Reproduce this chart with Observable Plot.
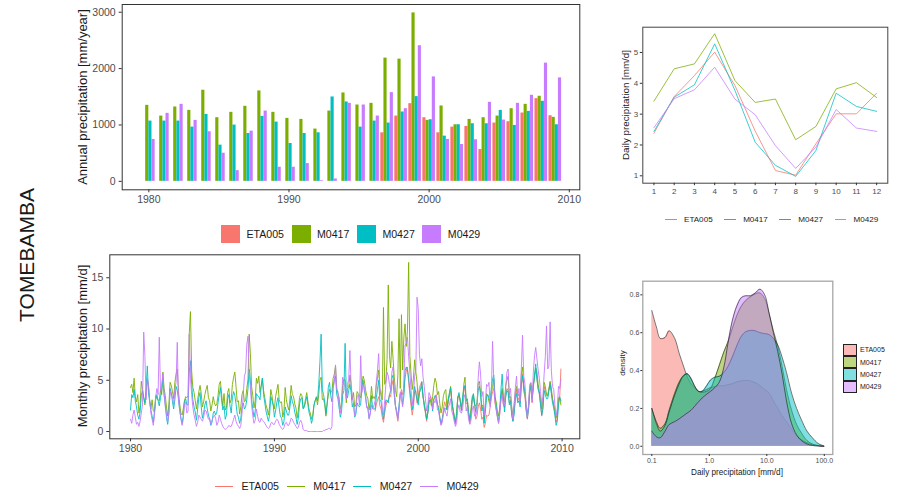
<!DOCTYPE html>
<html><head><meta charset="utf-8">
<script src="https://cdn.jsdelivr.net/npm/d3@7"></script>
<script src="https://cdn.jsdelivr.net/npm/@observablehq/plot@0.6"></script>
<style>
body{margin:0;background:#fff;font-family:"Liberation Sans",Arial,sans-serif;}
#wrap{position:relative;width:902px;height:497px;overflow:hidden;background:#fff;}
.abs{position:absolute;}
.rot{position:absolute;transform:translate(-50%,-50%) rotate(-90deg);white-space:nowrap;color:#1a1a1a;}
.hl{position:absolute;white-space:nowrap;color:#1a1a1a;transform:translate(-50%,-50%);}
.leg{position:absolute;display:flex;align-items:center;white-space:nowrap;color:#1a1a1a;}
</style></head><body><div id="wrap"></div><script>
// ---------------- data ----------------
const series = ["ETA005","M0417","M0427","M0429"];
const colors = ["#F8766D","#7CAE00","#00BFC4","#C77CFF"];
const stationName = "TOMEBAMBA";

const years = [1980,1981,1982,1983,1984,1985,1986,1987,1988,1989,1990,1991,1992,1993,1994,1995,1996,1997,1998,1999,2000,2001,2002,2003,2004,2005,2006,2007,2008,2009];
const annualETA005 = [null,null,null,null,null,null,null,null,null,null,null,null,null,null,null,null,null,861,1158,1378,1129,861,962,974,564,1034,1057,1212,1467,1164];
const annualM0417 = [1348,1158,1319,1259,1616,1129,1224,1331,1604,1224,1117,1099,927,1247,1568,1354,1384,2186,2168,2988,1081,1337,1004,1099,1129,1158,1289,1366,1509,1135];
const annualM0427 = [1069,1069,1069,962,1188,642,998,849,1152,1051,671,849,861,1497,1408,962,1069,1034,1230,1503,1093,802,1004,1022,1022,1259,992,1241,1420,1004];
const annualM0429 = [742,1206,1366,1081,879,499,190,891,1247,250,250,315,12,42,1384,1354,1158,1574,1289,2406,1853,743,653,737,1402,1087,1384,1527,2097,1835];
const annualTicks = [0,1000,2000,3000];
const yearTicks = [1980,1990,2000,2010];

const months = [1,2,3,4,5,6,7,8,9,10,11,12];
const climETA005 = [2.38,3.57,4.25,5.01,3.93,2.45,1.17,1.02,2.04,3.01,3.01,3.68];
const climM0417 = [3.42,4.47,4.63,5.61,4.09,3.38,3.49,2.17,2.60,3.82,4.02,3.54];
const climM0427 = [2.44,3.55,3.95,5.28,3.77,2.09,1.34,0.98,1.82,3.68,3.25,3.09];
const climM0429 = [2.56,3.50,3.79,4.52,3.49,2.98,1.98,1.24,1.93,3.15,2.55,2.44];
const climTicks = [1,2,3,4,5];

const monthlyStartETA005 = 1997;
const monthlyStartOthers = 1980;
const monthlyETA005 = [
2.0,2.6,3.1,3.4,2.5,2.2,1.4,0.9,1.8,2.5,3.0,3.0,
3.6,3.4,4.5,5.0,3.5,2.4,1.7,1.0,2.1,3.6,4.1,3.6,
3.8,5.2,5.9,6.3,4.8,3.6,2.5,1.6,2.4,3.9,4.0,2.8,
3.4,4.3,4.6,4.9,3.4,2.4,1.8,1.0,1.9,3.1,3.4,3.0,
2.4,3.1,3.3,3.6,2.6,2.5,1.3,0.7,1.2,2.2,2.9,2.5,
2.1,2.8,3.5,4.2,2.8,2.0,1.3,0.7,1.5,3.2,3.6,3.1,
2.0,2.9,3.9,4.4,2.7,2.8,1.5,0.8,1.6,3.0,3.4,2.6,
1.2,1.5,2.4,2.8,2.2,1.2,1.4,0.4,0.8,1.6,1.5,1.6,
2.4,3.3,3.9,4.2,2.8,2.1,1.4,0.8,1.7,3.2,4.0,2.6,
2.3,3.6,4.2,4.0,2.8,3.1,1.6,1.0,1.9,3.4,4.1,3.0,
3.3,2.8,4.6,5.6,3.9,3.4,2.0,1.2,2.1,3.8,4.3,2.8,
4.6,5.4,6.1,5.2,4.1,3.7,2.6,1.5,2.4,4.4,4.0,3.5,
3.5,4.2,4.8,3.9,3.1,2.6,1.7,0.9,1.3,3.0,3.3,6.1];
const monthlyM0417 = [
4.3,4.6,3.8,5.2,3.4,2.9,3.6,1.8,2.5,4.9,4.1,3.3,
2.6,3.9,5.1,4.4,3.0,2.2,3.1,2.0,1.9,3.5,3.2,3.1,
3.0,4.1,3.6,5.8,4.2,3.5,2.4,1.5,2.6,4.8,4.5,3.9,
3.2,4.8,5.6,6.1,3.9,2.7,1.8,1.6,2.2,3.0,3.4,3.3,
3.5,9.6,11.7,5.9,4.3,3.8,3.0,2.2,3.1,3.9,4.5,3.7,
2.4,2.9,3.6,4.1,4.5,3.3,3.0,2.0,2.6,3.4,2.8,2.5,
2.7,3.5,4.6,4.9,3.6,2.5,3.7,2.1,2.3,3.8,4.2,2.8,
3.1,4.6,5.3,5.8,4.4,2.9,3.0,1.7,2.4,3.6,4.0,2.9,
3.0,4.2,5.1,9.5,7.6,4.4,3.5,2.3,3.0,5.2,4.7,5.4,
3.8,4.5,5.2,4.0,3.3,2.6,2.2,1.6,2.4,4.1,3.5,2.6,
2.2,3.4,4.0,4.6,3.1,2.8,2.9,1.4,2.0,4.3,3.1,2.5,
2.1,3.2,4.5,3.6,3.4,2.7,2.3,1.3,2.1,3.3,3.7,3.5,
2.3,2.5,3.2,3.8,2.9,2.1,1.8,1.2,1.6,2.6,3.0,3.3,
2.6,3.6,5.0,5.3,3.1,3.2,2.6,1.5,2.8,3.5,4.1,3.8,
3.9,5.2,5.6,6.4,4.2,3.7,3.3,2.2,2.6,4.5,5.1,5.0,
2.8,4.2,4.3,5.5,4.6,3.1,3.8,2.4,2.6,3.9,3.7,3.5,
3.3,4.6,5.4,5.0,4.1,3.5,3.2,2.1,2.9,4.4,3.2,3.4,
3.2,4.5,5.2,6.0,4.1,3.5,3.1,12.1,4.6,5.0,7.0,14.3,
7.4,6.2,8.8,7.1,5.3,4.0,3.4,5.5,11.0,4.2,11.4,6.0,
9.2,10.5,8.3,9.8,16.5,7.4,5.6,4.1,5.2,7.0,5.8,4.8,
3.0,3.8,4.1,4.4,3.5,2.6,2.0,1.2,1.9,2.8,3.1,2.5,
3.4,4.5,5.2,4.8,3.6,3.9,2.7,1.8,2.4,3.5,3.9,4.1,
2.1,3.2,3.6,4.4,2.9,2.2,1.6,0.9,1.8,3.4,3.5,3.0,
2.4,3.0,4.6,5.3,3.0,3.2,1.9,1.3,2.2,3.4,3.6,2.6,
2.5,2.8,4.7,4.9,3.8,2.4,2.6,1.2,2.3,3.7,3.5,2.9,
2.6,3.9,4.3,5.1,3.4,2.9,2.0,1.5,2.3,3.3,4.2,3.0,
2.9,4.5,5.0,5.4,3.3,3.4,2.3,1.6,2.7,3.9,4.4,3.5,
3.6,3.2,5.6,6.3,4.2,3.7,2.5,1.8,2.4,4.3,4.7,3.2,
4.4,5.3,6.2,5.8,4.6,3.9,3.3,2.2,2.9,4.8,4.4,3.6,
3.5,4.1,4.9,4.2,3.2,2.7,2.0,1.3,1.8,3.3,3.4,2.6];
const monthlyM0427 = [
2.1,3.6,3.3,4.1,3.0,2.4,1.6,1.2,1.9,3.5,4.0,3.3,
2.8,4.2,6.4,3.8,2.9,2.1,1.5,0.9,2.0,3.1,3.6,3.0,
2.5,3.3,4.0,5.2,3.5,2.6,1.4,0.7,1.8,4.2,3.8,2.9,
2.2,3.1,4.4,4.0,3.2,2.1,1.3,0.8,1.5,2.9,3.2,2.6,
2.6,5.8,6.9,4.6,3.1,2.4,1.9,1.1,2.2,3.3,3.8,2.4,
1.3,1.8,2.6,3.0,2.2,1.6,1.2,0.6,0.9,1.8,2.0,1.6,
1.9,2.8,3.6,4.3,3.0,2.1,2.5,1.2,1.6,3.2,3.6,2.5,
1.8,3.3,3.9,3.5,2.7,1.7,1.4,0.8,1.3,2.4,2.8,2.2,
2.4,3.1,4.2,6.1,5.0,3.1,2.2,1.4,2.0,3.7,3.5,3.4,
3.1,4.4,5.2,3.6,2.8,2.0,1.5,1.0,1.6,3.4,3.0,2.6,
1.4,2.0,2.8,3.3,2.3,1.5,1.3,0.6,1.0,2.4,2.0,1.6,
1.6,2.4,3.5,2.9,2.6,1.9,1.4,0.7,1.3,2.7,3.2,3.3,
2.2,2.4,2.9,3.4,2.6,1.8,1.4,0.8,1.3,2.5,3.0,3.4,
3.0,4.6,6.8,9.5,4.1,3.6,2.9,1.7,2.6,4.3,4.8,3.5,
2.9,4.4,5.1,5.4,3.6,3.2,2.3,1.4,1.9,3.6,4.0,8.6,
3.5,3.3,4.0,4.6,3.8,2.4,2.8,1.4,1.7,2.8,2.5,2.4,
2.7,4.3,5.0,4.0,3.4,2.5,2.2,1.3,1.9,3.5,2.2,2.2,
2.2,3.3,4.1,5.0,3.1,2.9,1.9,1.2,2.2,3.1,3.0,2.8,
3.6,4.0,5.2,5.5,3.8,2.5,2.0,1.3,2.6,3.7,3.8,2.6,
3.4,5.9,6.3,6.0,5.2,4.1,3.0,2.1,2.9,4.4,3.7,3.1,
2.6,3.8,4.2,4.8,3.4,2.7,2.0,1.2,1.8,3.0,3.1,3.0,
2.0,3.2,3.5,3.3,2.6,2.2,1.4,0.8,1.2,1.8,2.3,2.2,
2.3,3.1,3.8,4.3,3.1,2.2,1.4,0.9,1.6,3.4,3.8,3.0,
2.1,3.3,4.2,4.5,3.0,2.9,1.7,1.0,1.8,3.1,3.7,2.8,
1.9,2.6,4.0,4.4,3.6,2.0,2.4,0.8,2.0,3.4,3.6,3.3,
2.8,4.3,5.1,5.5,3.4,2.5,1.5,1.0,2.2,4.1,5.6,3.4,
1.9,3.4,4.0,3.8,2.6,3.0,1.6,1.0,1.7,3.2,3.7,2.8,
3.0,2.4,4.6,5.4,4.6,3.9,2.2,1.3,2.3,3.9,4.5,3.2,
4.4,5.5,6.6,5.1,4.2,3.7,2.7,1.6,2.2,4.0,3.6,3.2,
3.2,4.0,4.6,3.7,2.8,2.3,1.6,0.6,1.0,2.6,3.3,3.0];
const monthlyM0429 = [
1.2,0.8,1.6,2.1,1.4,0.7,0.9,0.5,1.0,1.8,2.6,9.7,
7.4,3.1,5.2,4.6,3.0,1.8,1.2,0.6,1.5,3.4,4.2,3.6,
9.2,4.0,4.5,5.6,3.8,2.4,1.7,0.9,1.8,4.0,3.5,3.4,
2.6,4.1,4.8,8.7,3.0,2.2,1.3,0.6,1.2,2.7,2.9,1.8,
2.0,9.5,5.2,3.6,2.4,1.6,1.1,0.5,0.9,1.6,1.4,1.2,
1.0,1.4,2.1,2.0,1.6,1.2,1.3,0.7,1.1,1.4,1.6,1.3,
0.6,0.9,1.6,1.2,0.8,0.5,0.3,0.2,0.3,0.4,0.6,0.5,
0.5,0.8,1.2,1.6,1.0,0.7,0.5,0.3,0.6,1.8,3.5,5.4,
5.8,8.5,9.3,5.6,4.3,2.6,1.5,0.8,1.1,2.2,1.5,1.0,
0.9,1.3,1.1,1.0,0.8,0.6,0.4,0.3,0.4,0.8,0.9,0.7,
0.7,1.0,1.2,1.1,0.7,0.5,0.3,0.2,0.4,0.8,0.9,0.6,
0.6,0.9,1.3,1.2,0.9,0.7,0.5,0.3,0.4,0.9,1.1,0.8,
0.2,0.1,0.1,0.1,0.0,0.0,0.0,0.0,0.0,0.0,0.0,0.0,
0.0,0.0,0.0,0.0,0.0,0.1,0.1,0.2,0.2,0.3,0.3,0.2,
0.5,4.2,4.8,6.5,4.1,3.9,2.6,1.8,2.9,5.3,4.6,4.4,
3.2,4.6,5.1,7.9,4.5,3.3,2.8,1.5,2.0,3.4,3.6,2.6,
7.4,3.8,4.6,4.3,3.6,2.3,2.4,1.2,1.7,2.6,2.2,2.5,
3.0,4.8,6.0,7.6,4.2,3.9,2.4,1.6,3.0,4.6,5.8,5.4,
4.6,4.0,5.8,6.3,4.0,2.5,2.0,1.2,2.3,3.8,3.1,2.4,
5.1,8.4,8.6,9.2,7.3,5.8,4.0,2.6,3.6,5.4,6.0,13.1,
12.0,7.5,6.4,7.1,5.3,4.4,3.2,2.0,2.6,3.8,3.5,3.2,
2.2,3.0,2.8,3.4,2.1,2.0,1.2,0.6,0.9,1.7,2.3,1.8,
1.5,2.4,2.6,3.2,2.0,1.6,1.0,0.5,0.8,2.2,2.6,1.9,
1.8,2.2,3.3,3.6,2.0,2.4,1.2,0.7,1.1,2.1,2.5,1.5,
1.6,2.0,5.2,6.8,5.6,3.4,3.9,1.6,2.8,4.6,4.4,4.8,
2.4,3.8,8.8,4.9,3.0,2.2,1.6,0.8,1.8,3.1,3.6,2.6,
2.6,4.4,5.8,6.1,3.6,4.2,2.3,1.2,2.5,4.3,5.4,3.4,
4.2,3.0,6.2,9.4,5.4,4.6,2.6,1.4,2.6,4.6,4.8,2.9,
5.8,7.4,8.2,7.1,6.0,5.2,3.9,2.6,3.4,5.6,7.3,10.3,
6.1,6.4,10.7,6.0,4.4,4.1,2.6,1.5,2.3,4.4,4.2,5.1];
const monthlyTicks = [0,5,10,15];

const densX = [0.1,0.12,0.14,0.17,0.2,0.25,0.3,0.35,0.41,0.48,0.55,0.65,0.75,0.9,1.05,1.25,1.5,1.8,2.1,2.5,3.0,3.6,4.3,5.2,6.3,7.6,9.2,11,13,15.5,18.5,22,27,33,40,50,62,78,98];
const densETA005 = [0.717,0.63,0.57,0.575,0.61,0.57,0.49,0.43,0.37,0.33,0.31,0.29,0.29,0.30,0.31,0.315,0.32,0.32,0.325,0.33,0.34,0.345,0.348,0.345,0.335,0.32,0.30,0.28,0.24,0.20,0.16,0.13,0.09,0.055,0.035,0.018,0.008,0.003,0.0];
const densM0417 = [0.20,0.13,0.095,0.12,0.19,0.28,0.34,0.37,0.383,0.355,0.32,0.29,0.285,0.29,0.305,0.36,0.43,0.50,0.55,0.62,0.69,0.74,0.77,0.79,0.805,0.81,0.78,0.70,0.61,0.53,0.42,0.30,0.19,0.115,0.07,0.03,0.012,0.004,0.0];
const densM0427 = [0.20,0.12,0.08,0.11,0.18,0.27,0.33,0.37,0.383,0.36,0.32,0.29,0.29,0.32,0.35,0.365,0.37,0.39,0.42,0.47,0.53,0.58,0.605,0.612,0.61,0.60,0.595,0.59,0.57,0.535,0.47,0.39,0.28,0.20,0.14,0.08,0.045,0.015,0.002];
const densM0429 = [0.08,0.05,0.045,0.08,0.115,0.13,0.145,0.16,0.175,0.19,0.21,0.235,0.255,0.275,0.29,0.31,0.34,0.42,0.54,0.66,0.74,0.785,0.795,0.795,0.81,0.83,0.80,0.70,0.60,0.50,0.38,0.24,0.12,0.06,0.03,0.012,0.004,0.001,0.0];
const densXTicks = [0.1,1,10,100];
const densYTicks = [0,0.2,0.4,0.6,0.8];

// ---------------- build tables ----------------
const annual = {ETA005: annualETA005, M0417: annualM0417, M0427: annualM0427, M0429: annualM0429};
const clim = {ETA005: climETA005, M0417: climM0417, M0427: climM0427, M0429: climM0429};
const monthly = {ETA005: monthlyETA005, M0417: monthlyM0417, M0427: monthlyM0427, M0429: monthlyM0429};
const mStart = {ETA005: monthlyStartETA005, M0417: monthlyStartOthers, M0427: monthlyStartOthers, M0429: monthlyStartOthers};
const dens = {ETA005: densETA005, M0417: densM0417, M0427: densM0427, M0429: densM0429};

const barRows = [];
series.forEach((s, k) => years.forEach((yr, i) => {
  const v = annual[s][i];
  if (v != null) barRows.push({year: yr, series: s, k, value: v});
}));
const climRows = [];
series.forEach(s => months.forEach((m, i) => climRows.push({series: s, month: m, value: clim[s][i]})));
const monRows = [];
series.forEach(s => monthly[s].forEach((v, i) => monRows.push({series: s, t: mStart[s] + i / 12, value: v})));
const densRows = [];
series.forEach(s => densX.forEach((x, i) => densRows.push({series: s, x, d: dens[s][i]})));

const FONT = "Liberation Sans, Arial, sans-serif";
const colorScale = {domain: series, range: colors};
const wrap = document.getElementById("wrap");
function place(el, left, top) {
  const d = document.createElement("div");
  d.className = "abs"; d.style.left = left + "px"; d.style.top = top + "px";
  d.appendChild(el); wrap.appendChild(d); return d;
}
function txt(cls, text, x, y, size) {
  const d = document.createElement("div");
  d.className = cls; d.textContent = text;
  d.style.left = x + "px"; d.style.top = y + "px"; d.style.fontSize = size + "px";
  wrap.appendChild(d); return d;
}

// ---------------- panel 1: annual bars ----------------
const BW = 0.9 / series.length;
const p1 = Plot.plot({
  width: 600, height: 215,
  marginLeft: 121.7, marginRight: 20.7, marginTop: 4, marginBottom: 25.7,
  x: {domain: [1978.1, 2010.75]},
  y: {domain: [-150, 3137]},
  color: colorScale,
  style: {fontFamily: FONT, fontSize: "10.5px", color: "#4d4d4d", background: "white"},
  marks: [
    Plot.rectY(barRows, {x1: d => d.year - 0.45 + d.k * BW, x2: d => d.year - 0.45 + (d.k + 1) * BW, y1: 0, y2: "value", fill: "series"}),
    Plot.frame({stroke: "#333", strokeWidth: 1}),
    Plot.axisX({ticks: yearTicks, tickFormat: d => String(d), tickSize: 3, tickPadding: 3, label: null, stroke: "#333"}),
    Plot.axisY({ticks: annualTicks, tickFormat: d => String(d), tickSize: 3, tickPadding: 3.5, label: null, stroke: "#333"})
  ]
});
place(p1, 0, 0);
txt("rot", "Annual precipitation [mm/year]", 82, 97, 13);

// legend 1 (fill squares)
const leg1 = document.createElement("div");
leg1.className = "leg"; leg1.style.left = "221px"; leg1.style.top = "225px"; leg1.style.fontSize = "10.6px";
series.forEach((s, i) => {
  const sq = document.createElement("span");
  sq.style.cssText = `display:inline-block;width:19px;height:18px;background:${colors[i]};margin-right:6.5px;`;
  const lb = document.createElement("span"); lb.textContent = s; lb.style.marginRight = "7.5px";
  leg1.appendChild(sq); leg1.appendChild(lb);
});
wrap.appendChild(leg1);

// ---------------- panel 2: monthly series ----------------
const p2 = Plot.plot({
  width: 600, height: 215,
  marginLeft: 109.3, marginRight: 20.7, marginTop: 4.3, marginBottom: 26.7,
  x: {domain: [1978.56, 2011.23]},
  y: {domain: [-0.71, 17.24]},
  color: colorScale,
  style: {fontFamily: FONT, fontSize: "10.5px", color: "#4d4d4d", background: "white"},
  marks: [
    Plot.lineY(monRows, {x: "t", y: "value", stroke: "series", z: "series", strokeWidth: 0.9}),
    Plot.frame({stroke: "#333", strokeWidth: 1}),
    Plot.axisX({ticks: yearTicks, tickFormat: d => String(d), tickSize: 3, tickPadding: 3, label: null, stroke: "#333"}),
    Plot.axisY({ticks: monthlyTicks, tickFormat: d => String(d), tickSize: 3, tickPadding: 3.5, label: null, stroke: "#333"})
  ]
});
place(p2, 0, 250);
txt("rot", "Monthly precipitation [mm/d]", 82, 346, 13);

function lineLegend(left, top, fontSize, segLen, gapA, gapB) {
  const L = document.createElement("div");
  L.className = "leg"; L.style.left = left + "px"; L.style.top = top + "px"; L.style.fontSize = fontSize + "px";
  series.forEach((s, i) => {
    const seg = document.createElement("span");
    seg.style.cssText = `display:inline-block;width:${segLen}px;height:1px;background-color:${colors[i]};margin-right:${gapA}px;`;
    const lb = document.createElement("span"); lb.textContent = s; lb.style.marginRight = gapB + "px";
    L.appendChild(seg); L.appendChild(lb);
  });
  wrap.appendChild(L);
  L.style.top = (top - L.offsetHeight / 2) + "px";
}
lineLegend(215, 486, 10.6, 18, 8.5, 7.7);

// ---------------- panel 3: monthly climatology ----------------
const p3 = Plot.plot({
  width: 302, height: 200,
  marginLeft: 42.3, marginRight: 14.7, marginTop: 26.7, marginBottom: 17.3,
  x: {domain: [0.45, 12.55]},
  y: {domain: [0.76, 5.82]},
  color: colorScale,
  style: {fontFamily: FONT, fontSize: "8px", color: "#4d4d4d", background: "white"},
  marks: [
    Plot.lineY(climRows, {x: "month", y: "value", stroke: "series", z: "series", strokeWidth: 0.9, strokeOpacity: 0.85}),
    Plot.frame({stroke: "#444", strokeWidth: 1}),
    Plot.axisX({ticks: months, tickFormat: d => String(d), tickSize: 2.5, tickPadding: 3, label: null, stroke: "#333"}),
    Plot.axisY({ticks: climTicks, tickFormat: d => String(d), tickSize: 2.5, tickPadding: 2, label: null, stroke: "#333"})
  ]
});
place(p3, 600, 0);
txt("rot", "Daily precipitation [mm/d]", 625, 105, 9.8);
lineLegend(665, 219, 8.1, 11.7, 7.3, 11.5);

// ---------------- panel 4: density ----------------
const densMarks = [];
series.forEach((s, i) => {
  const rows = densRows.filter(r => r.series === s);
  densMarks.push(Plot.areaY(rows, {x: "x", y: "d", fill: colors[i], fillOpacity: 0.5, curve: "catmull-rom"}));
  densMarks.push(Plot.lineY(rows, {x: "x", y: "d", stroke: "#1a1a1a", strokeWidth: 0.6, curve: "catmull-rom"}));
});
const p4 = Plot.plot({
  width: 302, height: 215,
  marginLeft: 42.3, marginRight: 69.7, marginTop: 10.7, marginBottom: 31,
  x: {type: "log", domain: [0.0697, 140.6]},
  y: {domain: [-0.0435, 0.872]},
  style: {fontFamily: FONT, fontSize: "7px", color: "#4d4d4d", background: "white"},
  marks: [
    ...densMarks,
    Plot.frame({stroke: "#a6a6a6", strokeWidth: 1.3}),
    Plot.axisX({ticks: densXTicks, tickFormat: d => d.toFixed(1), tickSize: 2, tickPadding: 2, label: null, stroke: "#333"}),
    Plot.axisY({ticks: densYTicks, tickFormat: d => d.toFixed(1), tickSize: 2, tickPadding: 1.5, label: null, stroke: "#333"})
  ]
});
place(p4, 600, 270);
txt("rot", "density", 622, 363, 8);
txt("hl", "Daily precipitation [mm/d]", 737, 472, 8.2);

// legend 4
const leg4 = document.createElement("div");
leg4.className = "abs"; leg4.style.left = "843px"; leg4.style.top = "343.5px"; leg4.style.fontSize = "7px"; leg4.style.color = "#1a1a1a";
series.forEach((s, i) => {
  const row = document.createElement("div");
  row.style.cssText = "display:flex;align-items:center;height:12.4px;white-space:nowrap;";
  const sq = document.createElement("span");
  const c = d3.color(colors[i]); c.opacity = 0.5;
  sq.style.cssText = `display:inline-block;box-sizing:border-box;width:13.5px;height:12.4px;background:${c.formatRgb()};border:0.7px solid #222;margin-right:3.5px;`;
  const lb = document.createElement("span"); lb.textContent = s;
  row.appendChild(sq); row.appendChild(lb); leg4.appendChild(row);
});
wrap.appendChild(leg4);

// station title
txt("rot", stationName, 27, 255, 21);
</script></body></html>
